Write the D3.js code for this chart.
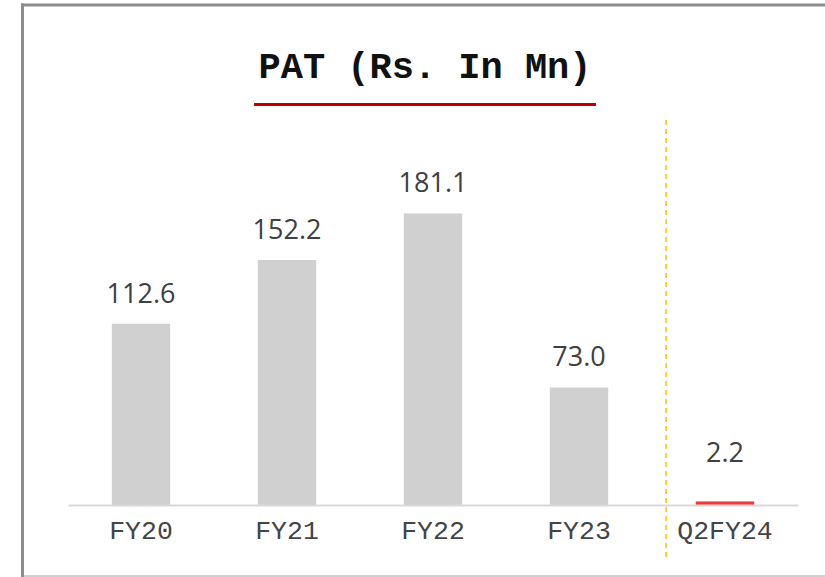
<!DOCTYPE html>
<html>
<head>
<meta charset="utf-8">
<script src="https://cdn.jsdelivr.net/npm/d3@7"></script>
<style>
  body { margin: 0; background: #fff; }
  svg { display: block; }
</style>
</head>
<body>
<div id="chart"></div>
<script>
// values
var categories = ['FY20', 'FY21', 'FY22', 'FY23', 'Q2FY24']
var pat = [112.6, 152.2, 181.1, 73.0, 2.2]
var barColors = ['#d0d0d0', '#d0d0d0', '#d0d0d0', '#d0d0d0', '#ee3a3a']
var title = 'PAT (Rs. In Mn)'

var width = 825
var height = 577
var baseline = 505

var svg = d3.select('#chart')
  .append('svg')
  .attr('width', width)
  .attr('height', height)

// frame lines
svg.append('line')
  .attr('x1', 22.5).attr('x2', 22.5)
  .attr('y1', 3.5).attr('y2', height)
  .attr('stroke', '#8c8c8c')
  .attr('stroke-width', 3)
svg.append('line')
  .attr('x1', 21).attr('x2', width)
  .attr('y1', 5).attr('y2', 5)
  .attr('stroke', '#8c8c8c')
  .attr('stroke-width', 3)
svg.append('line')
  .attr('x1', 24).attr('x2', width)
  .attr('y1', 576).attr('y2', 576)
  .attr('stroke', '#cfcfcf')
  .attr('stroke-width', 2)

// title
svg.append('text')
  .text(title)
  .attr('x', 425)
  .attr('y', 78)
  .attr('text-anchor', 'middle')
  .attr('font-family', '"Liberation Mono", "Courier New", monospace')
  .attr('font-weight', 'bold')
  .attr('font-size', 37)
  .attr('fill', '#111')

svg.append('line')
  .attr('x1', 254).attr('x2', 596)
  .attr('y1', 104.5).attr('y2', 104.5)
  .attr('stroke', '#c00000')
  .attr('stroke-width', 3)

var xScale = d3.scaleBand()
  .domain(categories)
  .range([68, 798])
  .paddingInner(0.6)
  .paddingOuter(0.3)

var yScale = d3.scaleLinear()
  .domain([0, 200])
  .range([baseline, baseline - 200 * 1.61])

var chart = svg.append('g')

chart.selectAll('rect.bar')
  .data(pat)
  .join('rect')
    .attr('class', 'bar')
    .attr('x', (d, i) => xScale(categories[i]))
    .attr('y', (d) => yScale(d))
    .attr('width', xScale.bandwidth())
    .attr('height', (d) => yScale(0) - yScale(d))
    .attr('fill', (d, i) => barColors[i])

chart.selectAll('text.value')
  .data(pat)
  .join('text')
    .attr('class', 'value')
    .text((d) => d.toFixed(1))
    .attr('x', (d, i) => xScale(categories[i]) + xScale.bandwidth() / 2)
    .attr('y', (d) => Math.min(yScale(d), yScale(0) - 22) - 21)
    .attr('text-anchor', 'middle')
    .attr('font-family', '"Open Sans", "Noto Sans", sans-serif')
    .attr('font-size', 27)
    .attr('fill', '#404040')

// category axis
var xAxis = d3.axisBottom(xScale).tickSize(0).tickPadding(0)
var axisG = svg.append('g')
  .attr('transform', `translate(0, ${baseline})`)
  .call(xAxis)
axisG.select('.domain')
  .attr('stroke', '#d9d9d9')
  .attr('stroke-width', 2)
axisG.selectAll('text')
  .attr('dy', 0)
  .attr('y', 34)
  .attr('font-family', '"Liberation Mono", "Courier New", monospace')
  .attr('font-size', 26.5)
  .attr('fill', '#444')

// separator before the quarter
var sepX = xScale(categories[4]) - xScale.bandwidth() / 2 - 0.5
svg.append('line')
  .attr('x1', sepX).attr('x2', sepX)
  .attr('y1', 120).attr('y2', 561)
  .attr('stroke', '#ffc000')
  .attr('stroke-width', 1.5)
  .attr('stroke-dasharray', '5,4')
</script>
</body>
</html>
